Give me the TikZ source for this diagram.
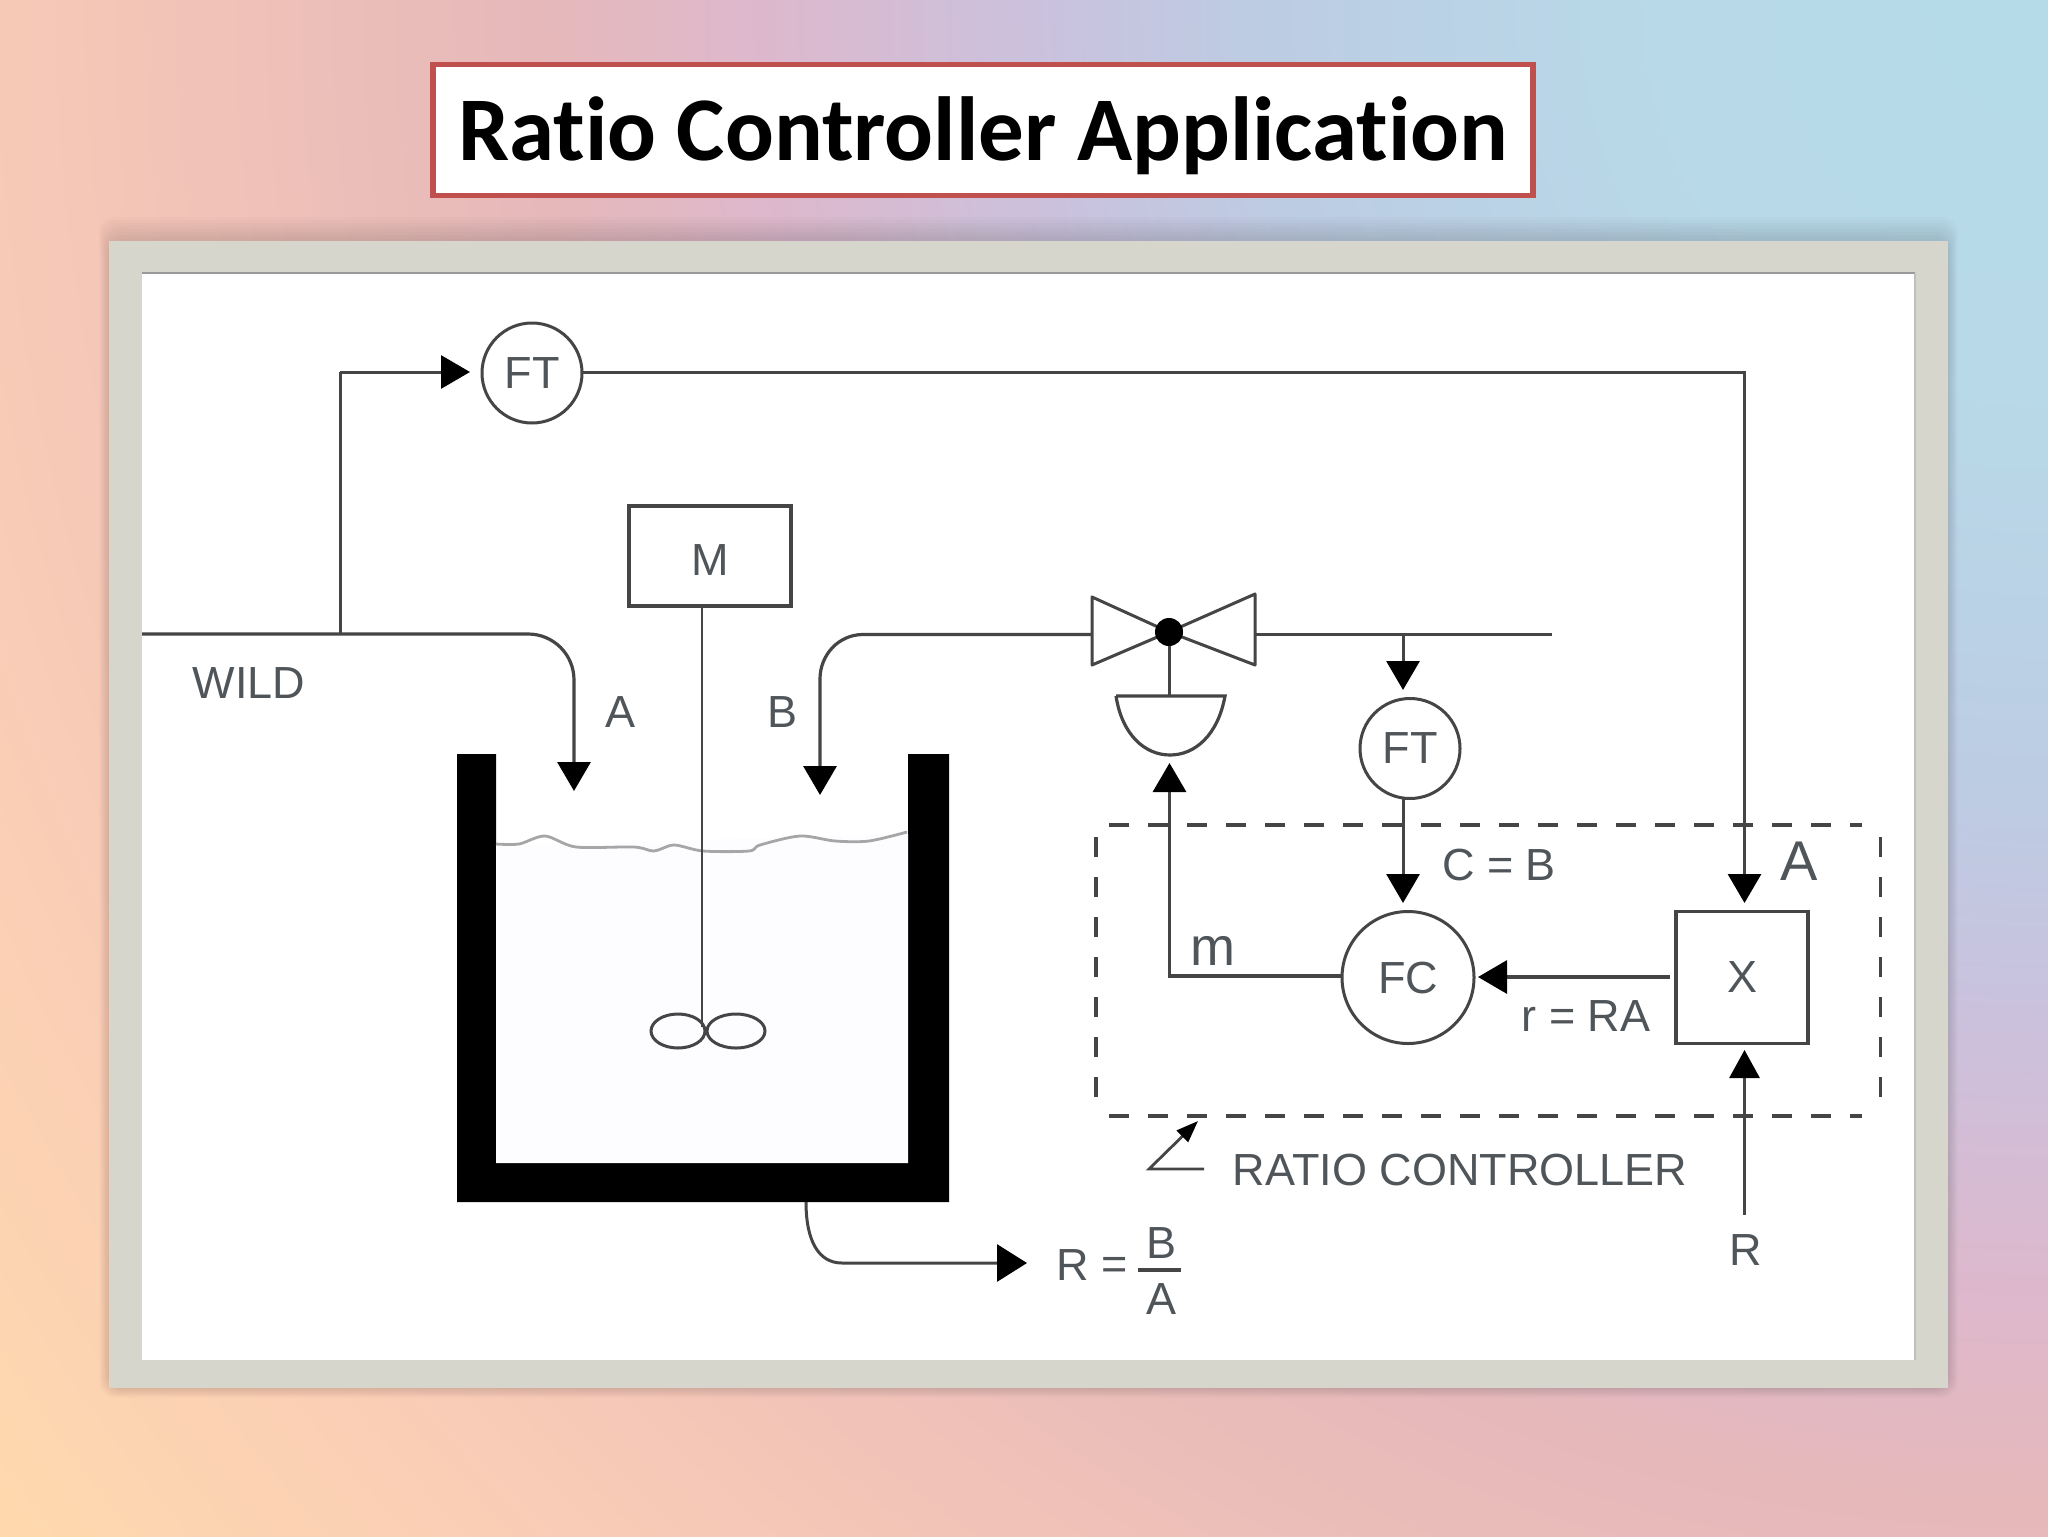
\documentclass[tikz,border=0pt]{standalone}
\usepackage{fontspec}
\usetikzlibrary{arrows.meta,shapes.geometric}
\newfontfamily\labelfont{Liberation Sans}
\newfontfamily\titlefont{Carlito}[Ligatures=NoCommon]
\definecolor{inkline}{HTML}{454545}
\definecolor{inktext}{HTML}{50555A}
\definecolor{framegrey}{HTML}{D6D6CC}
\definecolor{titlered}{HTML}{C0504D}
\definecolor{liquid}{HTML}{FDFCFF}
\pgfdeclareradialshading{bgrad}{\pgfpoint{0bp}{0bp}}{%
rgb(0bp)=(.71,.86,.91);rgb(3.9bp)=(.72,.85,.91);rgb(7.8bp)=(.74,.80,.89);rgb(9.75bp)=(.79,.76,.87);%
rgb(12.7bp)=(.87,.72,.80);rgb(14.65bp)=(.90,.72,.73);rgb(18.55bp)=(.95,.77,.72);rgb(21.5bp)=(.98,.81,.71);rgb(25bp)=(1,.85,.68);rgb(50bp)=(1,.85,.68)}
\tikzset{
 pipe/.style={draw=inkline,line width=1.6pt},
 sig/.style={pipe,-{Triangle[length=14.5pt,width=16.5pt,color=black]}},
 gapped/.style={shorten >=6pt},
 inst/.style={circle,draw=inkline,line width=1.5pt,fill=white,inner sep=0pt,outer sep=0pt,minimum size=50pt,labeltext},
 blockbox/.style={rectangle,draw=inkline,line width=1.6pt,fill=white,inner sep=0pt,outer sep=0pt,labeltext},
 labeltext/.style={text=inktext,font=\labelfont\fontsize{22.5}{26}\selectfont},
 tag/.style={labeltext,inner sep=0pt},
 dashline/.style={draw=inkline,line width=1.6pt,dash pattern=on 10pt off 9.5pt},
}
\begin{document}
\begin{tikzpicture}[x=.5pt,y=-.5pt]
\useasboundingbox (0,0) rectangle (2048,1536);
% background
\begin{scope}
\clip (0,0) rectangle (2048,1536);
\shade[shading=bgrad] (2048,0) circle (2560);
\foreach \d in {24,21,...,3}{
 \fill[black,opacity=.014,rounded corners=8pt] ({109-.4*\d},{241-\d}) rectangle ({1948+.4*\d},{1388+.4*\d});
}
\end{scope}
% picture frame
\fill[framegrey] (109,241) rectangle (1948,1388);
\fill[white] (142,273) rectangle (1915,1360);
\draw[gray!80,line width=1.2pt] (142,273) -- (1915,273);
\draw[gray!50,line width=1pt] (1915,273) -- (1915,1360);
% title
\node[draw=titlered,line width=2.6pt,fill=white,minimum width=550pt,minimum height=65.5pt,inner sep=0pt,
 text height=40pt,text depth=10pt,
 font=\titlefont\bfseries\fontsize{45.5}{48}\selectfont,text=black] (title) at (983,130) {Ratio Controller Application};
% tank
\fill[black] (457,754) -- (496,754) -- (496,1163) -- (908,1163) -- (908,754) -- (949,754) -- (949,1202) -- (457,1202) -- cycle;
\fill[liquid] (496,846) -- (908,834) -- (908,1163) -- (496,1163) -- cycle;
% liquid level
\draw[gray!70,line width=1.4pt,line join=round] plot[smooth,tension=.5] coordinates {(496,844) (519,844) (545,836) (576,847) (634,847) (654,851) (674,845) (703,851) (749,851) (760,845) (800,836) (835,841) (869,841) (907,832)};
% instruments and blocks
\node[inst] (ft1) at (532,373) {FT};
\node[blockbox,minimum width=81pt,minimum height=50pt,text height=19pt,text depth=0pt] (motor) at (710,556) {M};
\node[inst] (ft2) at (1410,748.5) {FT};
\node[inst,minimum size=66pt] (fc) at (1408,977.5) {FC};
\node[blockbox,minimum width=66pt,minimum height=66pt] (mult) at (1742,977.5) {X};
% impeller
\coordinate (hub) at (702,1027);
\draw[pipe,line width=1.4pt] (motor.south -| hub) -- (hub);
\node[ellipse,draw=inkline,line width=1.5pt,minimum width=27pt,minimum height=17pt,inner sep=0pt] (bladeL) at (678,1031) {};
\node[ellipse,draw=inkline,line width=1.5pt,minimum width=29pt,minimum height=17pt,inner sep=0pt] (bladeR) at (736,1031) {};
% wild stream
\coordinate (wildin) at (142,634);
\coordinate (wildtap) at (340,634);
\coordinate (atip) at (574,791);
\coordinate (ftbranch) at (340,372);
\draw[sig] (wildin) -- (528,634) to[out=0,in=90] (574,680) -- (atip);
\draw[pipe,line width=1.5pt] (wildtap) -- (ftbranch);
\draw[sig,line width=1.5pt,gapped] (ftbranch) -- (ft1.west |- ftbranch);
% B stream and valve
\coordinate (btip) at (820,795);
\coordinate (vl) at (1092,634.5);
\coordinate (vr) at (1255,634.5);
\coordinate (vc) at (1169,632);
\draw[sig] (vl) -- (863,634.5) to[out=180,in=90] (820,679) -- (btip);
\draw[inkline,line width=1.5pt,line join=round] (vc) -- (1092,597) -- (1092,665) -- cycle;
\draw[inkline,line width=1.5pt,line join=round] (vc) -- (1255,594) -- (1255,665) -- cycle;
\coordinate (lineend) at (1552,634.5);
\draw[pipe] (vr) -- (lineend);
\node[circle,fill=black,minimum size=14pt,inner sep=0pt] (stemdot) at (vc) {};
\coordinate (act) at (1169,696);
\draw[pipe,line width=1.5pt] (stemdot) -- (act);
\draw[inkline,line width=1.6pt] (1116,696) -- (1225,696) .. controls (1218,735) and (1195,755) .. (1170,755) .. controls (1145,755) and (1122,735) .. (1116,696);
% flow tap to FT
\coordinate (tap) at (1403,634.5);
\coordinate (tapend) at (1403,690);
\draw[sig,line width=1.5pt] (tap) -- (tapend);
\coordinate (ftlow) at (1403,799);
\coordinate (fcin) at (1403,903);
\draw[sig,line width=1.5pt] (ftlow) -- (fcin);
% FT wild signal to multiplier
\coordinate (xin) at (1744.5,903);
\coordinate (upper) at (1744.5,372);
\draw[sig,line width=1.5pt] (ft1.east |- upper) -- (upper) -- (xin);
% multiplier to FC
\coordinate (xout) at (1670,977);
\coordinate (fcrin) at (1478,977);
\draw[sig] (xout) -- (fcrin);
% FC to valve
\coordinate (mcorner) at (1169.5,976);
\coordinate (mtip) at (1169.5,763);
\draw[sig] (fc.west |- mcorner) -- (mcorner) -- (mtip);
% R setpoint
\coordinate (rstart) at (1744.5,1215);
\coordinate (rtip) at (1744.5,1050);
\draw[sig,line width=1.5pt,-{Triangle[length=14pt,width=15pt,color=black]}] (rstart) -- (rtip);
% outflow
\coordinate (outstart) at (806,1202);
\coordinate (outtip) at (1027,1263);
\draw[sig,line width=1.5pt,-{Triangle[length=15pt,width=18.5pt,color=black]}] (outstart) .. controls (806,1240) and (818,1263) .. (842,1263) -- (outtip);
% dashed ratio-controller box
\draw[dashline] (1109,825) -- (1862,825);
\draw[dashline] (1109,1116) -- (1862,1116);
\draw[dashline,dash pattern=on 10pt off 10pt] (1096,837) -- (1096,1103);
\draw[dashline,dash pattern=on 10pt off 10pt] (1880.5,837) -- (1880.5,1103);
% ratio controller pointer
\coordinate (pa) at (1204,1169);
\coordinate (pb) at (1149,1169);
\coordinate (pc) at (1198,1121);
\draw[pipe,line width=1.4pt,-{Triangle[length=11pt,width=8pt,color=black]}] (pa) -- (pb) -- (pc);
% labels
\node[tag] (wild) at (249,683) {WILD};
\node[tag] (la) at (620,712) {A};
\node[tag] (lb) at (782,712) {B};
\node[tag] (lc) at (1499,865) {C = B};
\node[tag,font=\labelfont\fontsize{28}{30}\selectfont] (la2) at (1799,861) {A};
\node[tag,font=\labelfont\fontsize{27}{30}\selectfont] (lm) at (1213,951) {m};
\node[tag] (lr) at (1586,1016) {r = RA};
\node[tag] (lrc) at (1460,1170) {RATIO CONTROLLER};
\node[tag] (lrr) at (1746,1250) {R};
\node[tag] (lR) at (1073,1265) {R};
\node[tag] (leq) at (1115,1268) {=};
\node[tag] (lnum) at (1161,1243) {B};
\node[tag] (lden) at (1161,1299) {A};
\draw[inkline,line width=1.6pt] (1138,1270) -- (1181,1270);
\end{tikzpicture}
\end{document}
